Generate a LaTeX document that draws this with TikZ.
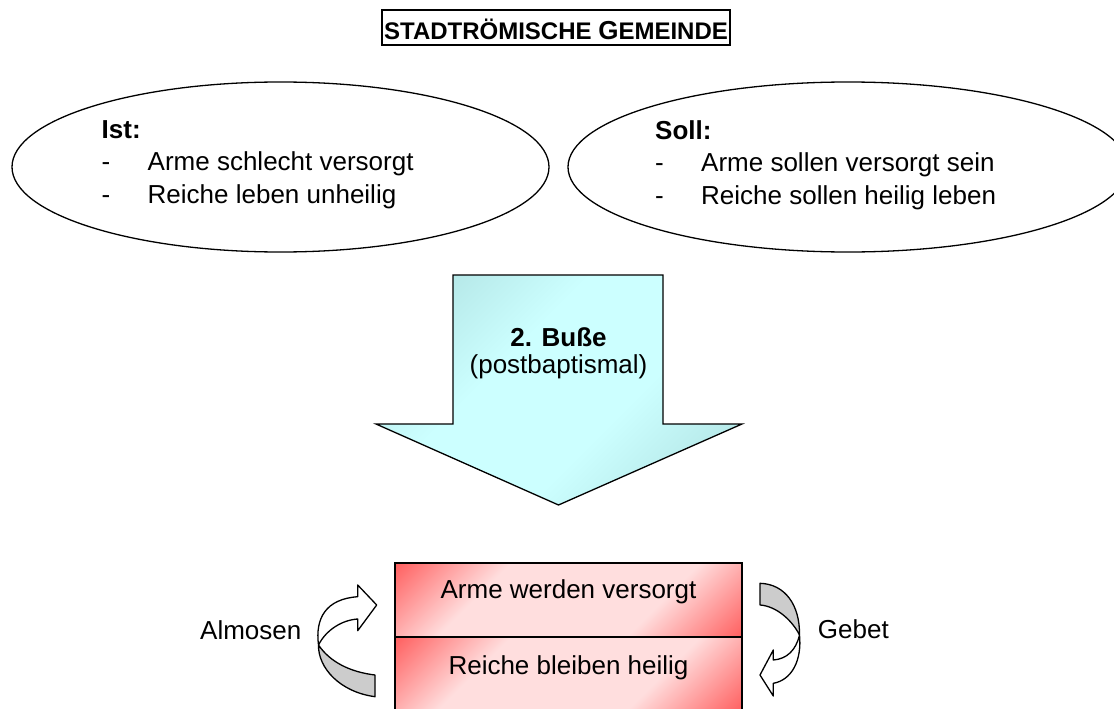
\documentclass[tikz,border=0pt]{standalone}
\usepackage{fontspec}
\setmainfont{Liberation Sans}
\usetikzlibrary{positioning,
                shapes.geometric
                }

\definecolor{boxred}{RGB}{255,0,0}
\definecolor{boxpink}{RGB}{255,222,222}
\definecolor{arrowlight}{RGB}{204,255,255}
\definecolor{arrowdark}{RGB}{150,200,200}
\definecolor{curlgray}{RGB}{204,204,204}

\pgfdeclareverticalshading{redfade}{100bp}{color(0bp)=(boxred); color(34bp)=(boxpink);
    color(66bp)=(boxpink); color(100bp)=(boxred)}
\pgfdeclareverticalshading{cyanfade}{100bp}{color(0bp)=(arrowdark); color(40bp)=(arrowlight);
    color(60bp)=(arrowlight); color(100bp)=(arrowdark)}

\newcommand\listdash{\makebox[46pt][l]{-}}

\begin{document}
\begin{tikzpicture}[x=1pt, y=-1pt,
    txt/.style = {font=\fontsize{26}{32.5}\selectfont, inner sep=0pt},
   wish/.style = {shape=ellipse, draw, line width=1.3pt, minimum width=#1,
                  minimum height=170pt, inner sep=0pt},
  titel/.style = {draw, line width=1.5pt, inner sep=0pt, text height=30pt, text depth=5pt,
                  minimum width=348pt, font=\bfseries},
  state/.style = {txt, draw, line width=1.5pt, shade, shading=redfade, shading angle=45,
                  minimum width=347pt, minimum height=74pt, outer sep=0pt,
                  text height=19pt, text depth=23pt},
  busse/.style = {draw, line width=1.3pt, shade, shading=cyanfade, shading angle=45},
 curlfront/.style = {draw, line width=1.3pt, line join=round, fill=white},
 curlback/.style  = {draw, line width=1.3pt, line join=round, fill=curlgray}
                    ]
\useasboundingbox (0,0) rectangle (1114,709);
\clip (0,0) rectangle (1114,709);
% title
\node (kopf) [titel] at (556,27.5)
    {\fontsize{24}{28}\selectfont STADTRÖMISCHE {\fontsize{26}{28}\selectfont G}EMEINDE};
% ist / soll
\node (ist)  [wish=537pt] at (280.5,167) {};
\node (soll) [wish=560pt] at (848,167) {};
\node (isttxt)  [txt, align=left, anchor=north west] at (101.5,120.4)
    {\textbf{Ist:}\\ \listdash Arme schlecht versorgt\\ \listdash Reiche leben unheilig};
\node (solltxt) [txt, align=left, anchor=north west] at (655,120.4)
    {\textbf{Soll:}\\ \listdash Arme sollen versorgt sein\\ \listdash Reiche sollen heilig leben};
% big arrow
\path[busse] (453,275) -- (663,275) -- (663,424) -- (742,424) -- (558.5,505)
    -- (376,424) -- (453,424) -- cycle;
\node (buss) [txt, align=center, font=\fontsize{26}{27}\selectfont] at (558.5,353)
    {\textbf{2. Buße}\\(postbaptismal)};
% result
\node (arm)   [state] at (568.5,600) {Arme werden versorgt};
\node (reich) [state, below=0pt of arm, text depth=18pt] {Reiche bleiben heilig};
% curled arrows
\path[curlback] (318.5,645) .. controls (318,668) and (340,692) .. (375,696.7)
    -- (375,675) .. controls (350,672) and (330,662) .. (318.5,645) -- cycle;
\path[curlfront] (357.7,596.7) -- (357.7,585) -- (376.7,605) -- (357.7,630.7) -- (357.7,619)
    .. controls (342,620) and (326,630) .. (318.5,645)
    .. controls (315,618) and (326,599) .. (357.7,596.7) -- cycle;
\path[curlback] (760,583.3) .. controls (785,584) and (800,605) .. (799.5,635)
    .. controls (792,620) and (776,606) .. (760,605) -- cycle;
\path[curlfront] (799.5,635) .. controls (796,650) and (787,659) .. (773.3,660)
    -- (773.3,650) -- (760,675) -- (773.3,696) -- (773.3,683.3)
    .. controls (792,680) and (802,660) .. (799.5,635) -- cycle;
\node (alm)   [txt, anchor=base west] at (200,639) {Almosen};
\node (gebet) [txt, anchor=base west] at (817.7,638) {Gebet};
\end{tikzpicture}
\end{document}
